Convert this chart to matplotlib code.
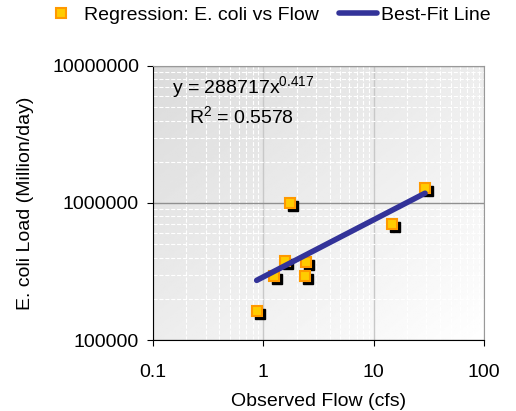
#Se importan librerias necesarias
import numpy as np
from matplotlib import pyplot as plt
from matplotlib import transforms

plt.rcParams['font.family'] = ['Liberation Sans', 'DejaVu Sans']
plt.rcParams['mathtext.fontset'] = 'custom'
plt.rcParams['mathtext.rm'] = 'Liberation Sans'
plt.rcParams['mathtext.default'] = 'regular'

#datos
flujo = [0.88, 1.24, 1.56, 1.76, 2.46, 2.41, 14.6, 29.2]
carga = [163000, 293000, 378000, 1000000, 370000, 293000, 698000, 1290000]
c = 288717; b = 0.417
x_ajuste = [0.87, 29.2]
y_ajuste = [c * xi ** b for xi in x_ajuste]

fig = plt.figure(figsize=(5.16, 4.11), dpi=100)
ax = fig.add_axes([153/516, 1-340/411, 331/516, 274/411])

#fondo degradado
gx, gy = np.meshgrid(np.linspace(0, 1, 200), np.linspace(0, 1, 200))
grad = (gx + gy) / 2
ax.imshow(grad, cmap='gray', vmin=-6, vmax=1, extent=[0, 1, 0, 1],
          transform=ax.transAxes, aspect='auto', zorder=0, origin='upper')

ax.set_xscale('log'); ax.set_yscale('log')
ax.set_xlim(0.1, 100); ax.set_ylim(1e5, 1e7)

#rejilla
ax.grid(True, which='minor', color='white', ls='--', lw=0.8, zorder=1)
ax.grid(True, which='major', axis='x', color='#c8c8c8', lw=1, zorder=1)
ax.grid(True, which='major', axis='y', color='#909090', lw=1, zorder=1)

#sombra de los puntos
sombra = ax.transData + transforms.ScaledTranslation(3/100, -3/100, fig.dpi_scale_trans)
ax.plot(flujo, carga, 's', ms=7.5, color='black', zorder=3, transform=sombra)
ax.plot(flujo, carga, 's', ms=7.5, mfc='#FFCC00', mec='#FF9900', mew=1.5,
        zorder=4, label='Regression: E. coli vs Flow')
ax.plot(x_ajuste, y_ajuste, '-', color='#333399', lw=4, solid_capstyle='round',
        zorder=5, label='Best-Fit Line')

#ecuacion y R^2
fig.text(172/516, 1-93/411, r'y = 288717x$^{0.417}$', fontsize=14)
fig.text(189/516, 1-123/411, r'R$^{2}$ = 0.5578', fontsize=14)

ax.set_xticks([0.1, 1, 10, 100])
ax.set_xticklabels(['0.1', '1', '10', '100'])
ax.set_yticks([1e5, 1e6, 1e7])
ax.set_yticklabels(['100000', '1000000', '10000000'])
ax.tick_params(which='minor', length=0)
ax.tick_params(which='major', direction='out', length=4, labelsize=14)
ax.tick_params(axis='x', pad=13)
ax.tick_params(axis='y', pad=6)
ax.set_xlabel('Observed Flow (cfs)', fontsize=14, labelpad=9)
ax.set_ylabel('E. coli Load (Million/day)', fontsize=14, labelpad=13)
for s in ['top', 'right']:
    ax.spines[s].set_color('#999999')

fig.legend(loc='center', bbox_to_anchor=(0.516, 0.9635), ncol=2, frameon=False,
           fontsize=14, handlelength=2, columnspacing=1.0, handletextpad=0.2)
fig.savefig('out.png', dpi=100)
